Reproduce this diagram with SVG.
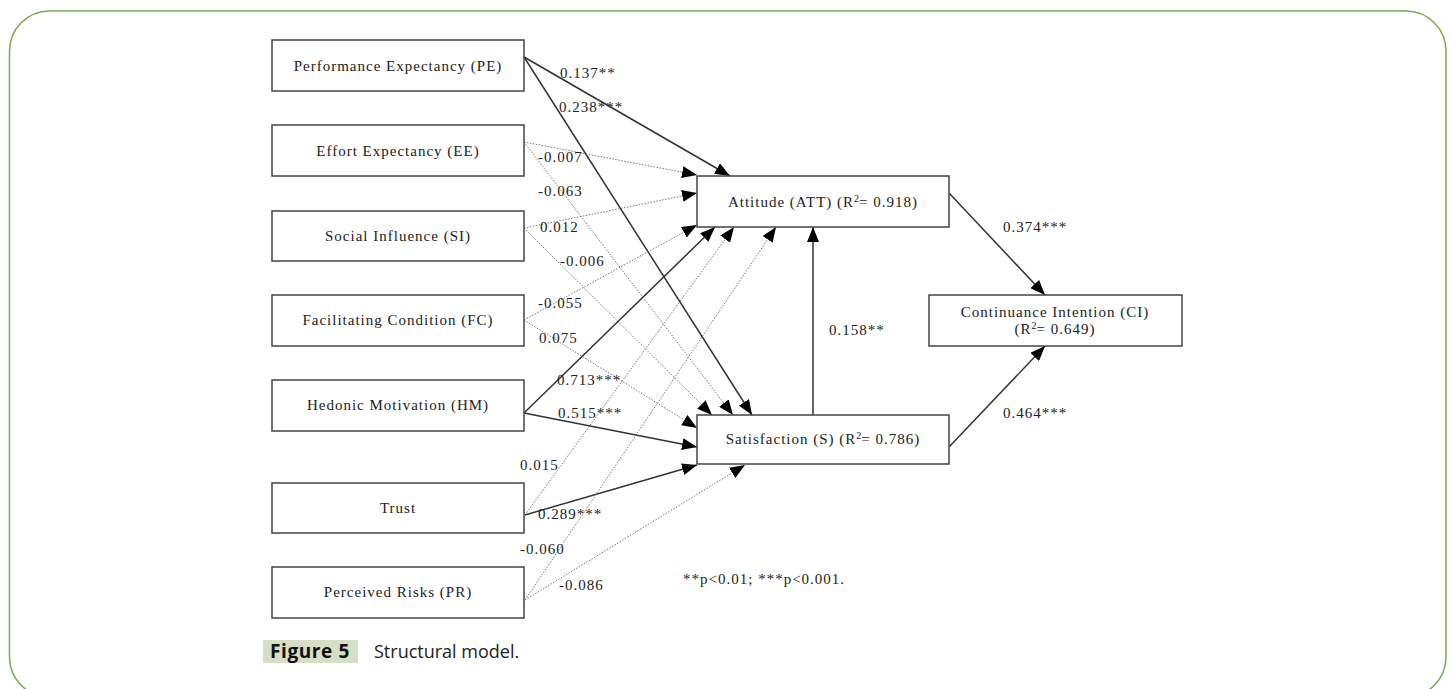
<svg xmlns="http://www.w3.org/2000/svg" width="1454" height="689" viewBox="0 0 1454 689">
<style>
.box{fill:#fff;stroke:#444;stroke-width:1.5}
.t{font-family:"Liberation Serif","Times New Roman",serif;font-size:15px;fill:#222;letter-spacing:1px}
.c{text-anchor:middle}
.sol{stroke:#333;stroke-width:1.5;fill:none}
.dot{stroke:#777;stroke-width:1;stroke-dasharray:1.5 1.5;fill:none}
.sup{font-size:10px}
</style>
<defs>
<marker id="ah" markerUnits="userSpaceOnUse" markerWidth="16" markerHeight="12" refX="15" refY="6" orient="auto">
<path d="M0,0 L15,6 L0,12 z" fill="#000"/>
</marker>
</defs>
<rect x="9.5" y="11" width="1436.5" height="686" rx="40" ry="40" fill="none" stroke="#7aab4f" stroke-width="1.5"/>

<g id="connectors">
<line class="sol" x1="524" y1="57" x2="730" y2="176" marker-end="url(#ah)"/>
<line class="sol" x1="524" y1="57" x2="752" y2="415" marker-end="url(#ah)"/>
<line class="dot" x1="524" y1="142" x2="697" y2="175" marker-end="url(#ah)"/>
<line class="dot" x1="524" y1="142" x2="733" y2="415" marker-end="url(#ah)"/>
<line class="dot" x1="524" y1="228" x2="697" y2="193" marker-end="url(#ah)"/>
<line class="dot" x1="524" y1="228" x2="712" y2="415" marker-end="url(#ah)"/>
<line class="dot" x1="524" y1="320" x2="697" y2="225" marker-end="url(#ah)"/>
<line class="dot" x1="524" y1="320" x2="697" y2="428" marker-end="url(#ah)"/>
<line class="sol" x1="524" y1="413" x2="715" y2="227" marker-end="url(#ah)"/>
<line class="sol" x1="524" y1="413" x2="697" y2="447" marker-end="url(#ah)"/>
<line class="dot" x1="525" y1="515" x2="734" y2="227" marker-end="url(#ah)"/>
<line class="sol" x1="525" y1="515" x2="697" y2="465" marker-end="url(#ah)"/>
<line class="dot" x1="525" y1="600" x2="776" y2="227" marker-end="url(#ah)"/>
<line class="dot" x1="525" y1="600" x2="745" y2="465" marker-end="url(#ah)"/>
<line class="sol" x1="813" y1="415" x2="813" y2="227" marker-end="url(#ah)"/>
<line class="sol" x1="949" y1="193" x2="1045" y2="295" marker-end="url(#ah)"/>
<line class="sol" x1="949" y1="447" x2="1045" y2="346" marker-end="url(#ah)"/>
</g>

<g id="labels">
<text class="t" x="560" y="78">0.137**</text>
<text class="t" x="559" y="112">0.238***</text>
<text class="t" x="538" y="162">-0.007</text>
<text class="t" x="538" y="196">-0.063</text>
<text class="t" x="540" y="232">0.012</text>
<text class="t" x="560" y="266">-0.006</text>
<text class="t" x="538" y="308">-0.055</text>
<text class="t" x="539" y="343">0.075</text>
<text class="t" x="557" y="385">0.713***</text>
<text class="t" x="558" y="418">0.515***</text>
<text class="t" x="520" y="470">0.015</text>
<text class="t" x="538" y="519">0.289***</text>
<text class="t" x="520" y="554">-0.060</text>
<text class="t" x="559" y="590">-0.086</text>
<text class="t" x="1003" y="232">0.374***</text>
<text class="t" x="829" y="335">0.158**</text>
<text class="t" x="1003" y="418">0.464***</text>
<text class="t" x="683" y="584">**p&lt;0.01; ***p&lt;0.001.</text>
</g>

<g id="PE"><rect class="box" x="272" y="40" width="252" height="51"/><text class="t c" x="398" y="71">Performance Expectancy (PE)</text></g>
<g id="EE"><rect class="box" x="272" y="125" width="252" height="51"/><text class="t c" x="398" y="156">Effort Expectancy (EE)</text></g>
<g id="SI"><rect class="box" x="272" y="211" width="252" height="50"/><text class="t c" x="398" y="241">Social Influence (SI)</text></g>
<g id="FC"><rect class="box" x="272" y="295" width="252" height="51"/><text class="t c" x="398" y="325">Facilitating Condition (FC)</text></g>
<g id="HM"><rect class="box" x="272" y="380" width="252" height="51"/><text class="t c" x="398" y="410">Hedonic Motivation (HM)</text></g>
<g id="Trust"><rect class="box" x="272" y="483" width="252" height="50"/><text class="t c" x="398" y="513">Trust</text></g>
<g id="PR"><rect class="box" x="272" y="567" width="252" height="51"/><text class="t c" x="398" y="597">Perceived Risks (PR)</text></g>

<g id="ATT"><rect class="box" x="697" y="176" width="252" height="51"/><text class="t c" x="823" y="207">Attitude (ATT) (R<tspan class="sup" dy="-5" letter-spacing="0">2</tspan><tspan dy="5">= 0.918)</tspan></text></g>
<g id="S"><rect class="box" x="697" y="415" width="252" height="49"/><text class="t c" x="823" y="444">Satisfaction (S) (R<tspan class="sup" dy="-5" letter-spacing="0">2</tspan><tspan dy="5">= 0.786)</tspan></text></g>
<g id="CI"><rect class="box" x="929" y="295" width="253" height="51"/><text class="t c" x="1055" y="317">Continuance Intention (CI)</text><text class="t c" x="1055" y="334">(R<tspan class="sup" dy="-5" letter-spacing="0">2</tspan><tspan dy="5">= 0.649)</tspan></text></g>

<g id="caption">
<rect x="263" y="640" width="95" height="23" fill="#d6dfc5"/>
<text x="270" y="658" font-family="'Open Sans','Liberation Sans',sans-serif" font-weight="bold" font-size="19" letter-spacing="0.6" fill="#111">Figure 5</text>
<text x="374" y="658" font-family="'Open Sans','Liberation Sans',sans-serif" font-size="18" fill="#222">Structural model.</text>
</g>
</svg>
